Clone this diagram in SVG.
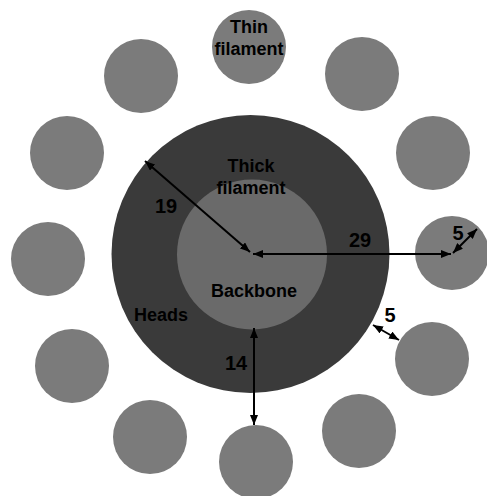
<svg xmlns="http://www.w3.org/2000/svg" width="487" height="496" viewBox="0 0 487 496">
<defs>
<style>
.thin{fill:#7b7b7b}
.heads{fill:#3a3a3a}
.backbone{fill:#6a6a6a}
.lbl{font-family:"Liberation Sans",Arial,sans-serif;font-weight:bold;font-size:18px;fill:#000;text-anchor:middle}
.num{font-family:"Liberation Sans",Arial,sans-serif;font-weight:bold;font-size:20px;fill:#000;text-anchor:middle}
.dim{stroke:#000;stroke-width:2;fill:none;marker-start:url(#ah);marker-end:url(#ah)}
</style>
<marker id="ah" viewBox="0 0 10 8" refX="10" refY="4" markerWidth="10" markerHeight="8" markerUnits="userSpaceOnUse" orient="auto-start-reverse">
<path d="M0,0 L10,4 L0,8 z" fill="#000"/>
</marker>
</defs>
<rect width="487" height="496" fill="#fff"/>
<g id="thin-filaments">
<g id="thin-top"><circle class="thin" cx="249" cy="47" r="37"/><text class="lbl" x="249" y="33">Thin</text><text class="lbl" x="249" y="55">filament</text></g>
<g id="thin-1"><circle class="thin" cx="362" cy="74" r="37"/></g>
<g id="thin-2"><circle class="thin" cx="433" cy="153" r="37"/></g>
<g id="thin-3"><circle class="thin" cx="452" cy="253" r="37"/></g>
<g id="thin-4"><circle class="thin" cx="432" cy="359" r="37"/></g>
<g id="thin-5"><circle class="thin" cx="359" cy="431" r="37"/></g>
<g id="thin-6"><circle class="thin" cx="256" cy="462" r="37"/></g>
<g id="thin-7"><circle class="thin" cx="150" cy="437" r="37"/></g>
<g id="thin-8"><circle class="thin" cx="72" cy="366" r="37"/></g>
<g id="thin-9"><circle class="thin" cx="48" cy="259" r="37"/></g>
<g id="thin-10"><circle class="thin" cx="67" cy="153" r="37"/></g>
<g id="thin-11"><circle class="thin" cx="141" cy="76" r="37"/></g>
</g>
<g id="thick-filament">
<circle class="heads" cx="250.5" cy="254" r="139"/>
<circle class="backbone" cx="252" cy="254.5" r="75"/>
<text class="lbl" x="251" y="172">Thick</text>
<text class="lbl" x="251" y="194">filament</text>
<text class="lbl" x="254" y="297">Backbone</text>
<text class="lbl" x="161" y="321">Heads</text>
</g>
<g id="connectors">
<line class="dim" x1="145" y1="161" x2="250" y2="252"/>
<line class="dim" x1="253" y1="254" x2="451" y2="254"/>
<line class="dim" x1="453" y1="253" x2="477" y2="229"/>
<line class="dim" x1="373" y1="325" x2="399" y2="340"/>
<line class="dim" x1="254" y1="328" x2="254" y2="425"/>
</g>
<g id="labels">
<text class="num" x="166" y="213">19</text>
<text class="num" x="360" y="247">29</text>
<text class="num" x="458" y="240">5</text>
<text class="num" x="390" y="322">5</text>
<text class="num" x="236" y="370">14</text>
</g>
</svg>
